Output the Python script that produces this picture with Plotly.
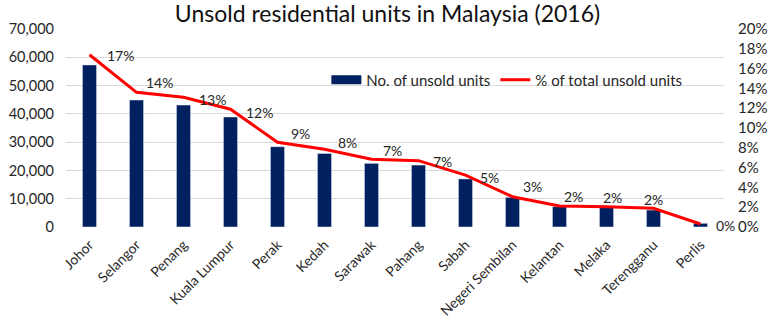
import plotly.graph_objects as go

states = ["Johor", "Selangor", "Penang", "Kuala Lumpur", "Perak", "Kedah", "Sarawak",
          "Pahang", "Sabah", "Negeri Sembilan", "Kelantan", "Melaka", "Terengganu", "Perlis"]
unsold_units = [57300, 44900, 43100, 38900, 28400, 26000, 22500, 21900, 17000, 10500, 7200, 7000, 6000, 1300]
pct_total = [17.4, 13.6, 13.1, 11.9, 8.55, 7.85, 6.84, 6.7, 5.25, 3.06, 2.12, 2.05, 1.89, 0.3]
pct_labels = ["17%", "14%", "13%", "12%", "9%", "8%", "7%", "7%", "5%", "3%", "2%", "2%", "2%", "0%"]

# label offsets (style): pixels right / up from the line point
label_dx = [31, 23, 29, 29, 23, 23, 21, 24, 24, 20, 14, 6, 0, 25]
label_dy = [-1, 10, -2, -3, 9, 7, 9, -1, -2, 10, 10, 9, 9, -1]

FONT = "Lato"
TXT = "#262626"

fig = go.Figure()
fig.add_trace(go.Bar(
    x=states, y=unsold_units, name="No. of unsold units",
    marker=dict(color="#002060"), yaxis="y", showlegend=False,
))
fig.add_trace(go.Scatter(
    x=[None], y=[None], name="No. of unsold units", mode="lines",
    line=dict(color="#002060", width=9), yaxis="y",
))
fig.add_trace(go.Scatter(
    x=states, y=pct_total, name="% of total unsold units", yaxis="y2",
    mode="lines", line=dict(color="#FF0000", width=3),
))

for s, v, t, dx, dy in zip(states, pct_total, pct_labels, label_dx, label_dy):
    fig.add_annotation(x=s, y=v, xref="x", yref="y2", text=t, showarrow=False,
                       xshift=dx, yshift=dy, xanchor="center", yanchor="middle",
                       font=dict(family=FONT, size=14, color=TXT))

fig.update_layout(
    width=775, height=328,
    margin=dict(l=66, r=51, t=29, b=101, autoexpand=False),
    paper_bgcolor="white", plot_bgcolor="white",
    font=dict(family=FONT, size=14, color=TXT),
    title=dict(text="Unsold residential units in Malaysia (2016)", x=0.5, xanchor="center",
               y=0.957, yanchor="middle", font=dict(family=FONT, size=23, color="#111111")),
    bargap=0.7,
    showlegend=True,
    legend=dict(orientation="h", x=0.67, xanchor="center", y=0.742, yanchor="middle",
                bgcolor="rgba(0,0,0,0)", font=dict(family=FONT, size=15, color=TXT),
                itemwidth=30, tracegroupgap=0),
    xaxis=dict(tickangle=-45, showgrid=False, showline=False, ticks="",
               range=[-0.5, len(states) - 0.5],
               ticklabelstandoff=6, automargin=False,
               tickfont=dict(family=FONT, size=14, color=TXT)),
    yaxis=dict(range=[0, 70000], dtick=10000, tickformat=",d", showgrid=True,
               gridcolor="#D9D9D9", gridwidth=1, zeroline=False, showline=False,
               ticks="", ticklabelstandoff=11, automargin=False,
               tickfont=dict(family=FONT, size=14.5, color=TXT)),
    yaxis2=dict(range=[0, 20], dtick=2, ticksuffix="%", overlaying="y", side="right",
                showgrid=False, zeroline=False, showline=False, ticks="",
                ticklabelstandoff=13, automargin=False,
                tickfont=dict(family=FONT, size=15, color=TXT)),
)

fig.write_html("out.html")
